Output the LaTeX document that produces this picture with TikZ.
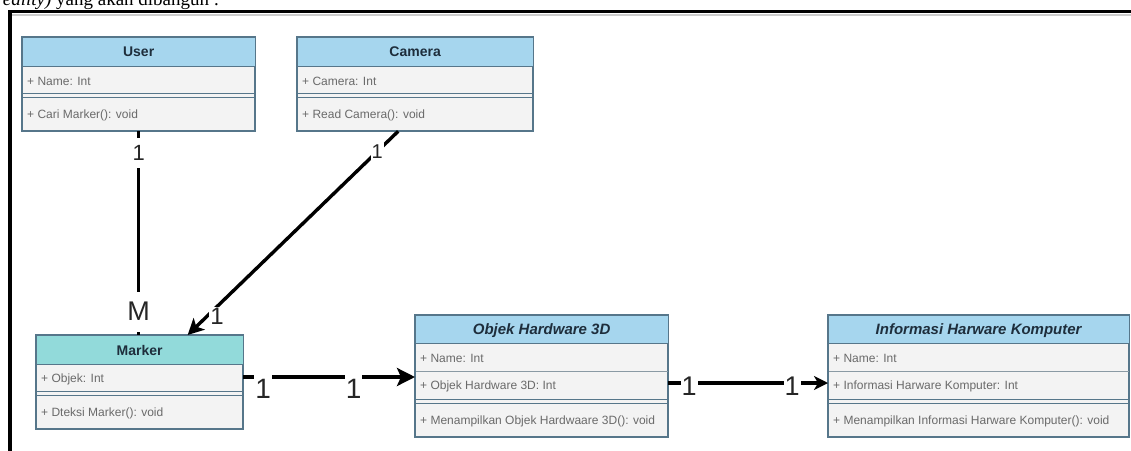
\documentclass[tikz,border=0pt]{standalone}
\usepackage{fontspec}
\setmainfont{Liberation Sans}
\newfontfamily\capserif{Liberation Serif}
\usetikzlibrary{arrows.meta,calc}
\definecolor{headblue}{HTML}{A6D6EE}
\definecolor{headteal}{HTML}{92DADA}
\definecolor{bodygray}{HTML}{F3F3F3}
\definecolor{boxline}{HTML}{56768A}
\definecolor{rowline}{HTML}{8A9AA4}
\definecolor{attrtext}{HTML}{6A6A6A}
\definecolor{headtext}{HTML}{1E2E3C}
\definecolor{labeltext}{HTML}{262626}
\tikzset{
  classbody/.style={draw=boxline, line width=1.3pt, fill=bodygray, inner sep=0pt, anchor=north west},
  sepline/.style={draw=rowline, line width=0.9pt},
  dblline/.style={draw=boxline, line width=0.9pt},
  headlbl/.style={font=\fontsize{14}{14}\selectfont\bfseries, text=headtext, inner sep=0pt},
  headlblit/.style={font=\fontsize{15}{15}\selectfont\bfseries\itshape, text=headtext, inner sep=0pt},
  memberlbl/.style={font=\fontsize{12}{12}\selectfont, text=attrtext, anchor=west, inner sep=0pt},
  assoc/.style={line width=#1, black},
  assoc/.default=3.6pt,
  navarrow/.style={-{Stealth[length=#1,width=#1,inset=4pt]}},
  navarrow/.default=16pt,
  mult/.style={fill=white, inner sep=1pt, text=labeltext, font=\fontsize{#1}{#1}\selectfont},
  mult/.default=28,
}
% one attribute row
\newcommand{\classone}[9]{%
  \node[classbody, minimum width=#4pt, minimum height=93pt] (#1) at (#2,#3) {};
  \fill[#5] ($(#1.north west)+(0.65,0.65)$) rectangle ($(#1.north east)+(-0.65,29)$);
  \draw[sepline, draw=boxline] ($(#1.north west)+(0,29)$) -- ($(#1.north east)+(0,29)$);
  \draw[dblline] ($(#1.north west)+(0,56)$) -- ($(#1.north east)+(0,56)$);
  \draw[dblline] ($(#1.north west)+(0,60)$) -- ($(#1.north east)+(0,60)$);
  \node[#6] (#1-title) at ($(#1.north)+(0,15)$) {#7};
  \node[memberlbl] (#1-a1) at ($(#1.north west)+(5,44)$) {#8};
  \node[memberlbl] (#1-m) at ($(#1.north west)+(5,78)$) {#9};
  \draw[boxline, line width=1.3pt] (#1.north west) rectangle (#1.south east);
}
% two attribute rows
\newcommand{\classtwo}[9]{%
  \node[classbody, minimum width=#4pt, minimum height=121pt] (#1) at (#2,#3) {};
  \fill[#5] ($(#1.north west)+(0.65,0.65)$) rectangle ($(#1.north east)+(-0.65,28)$);
  \draw[sepline, draw=boxline] ($(#1.north west)+(0,28)$) -- ($(#1.north east)+(0,28)$);
  \draw[sepline] ($(#1.north west)+(0,56)$) -- ($(#1.north east)+(0,56)$);
  \draw[dblline] ($(#1.north west)+(0,84)$) -- ($(#1.north east)+(0,84)$);
  \draw[dblline] ($(#1.north west)+(0,88)$) -- ($(#1.north east)+(0,88)$);
  \node[headlblit] (#1-title) at ($(#1.north)+(0,16)$) {#6};
  \node[memberlbl] (#1-a1) at ($(#1.north west)+(5,43)$) {#7};
  \node[memberlbl] (#1-a2) at ($(#1.north west)+(5,71)$) {#8};
  \node[memberlbl] (#1-m) at ($(#1.north west)+(5,106)$) {#9};
  \draw[boxline, line width=1.3pt] (#1.north west) rectangle (#1.south east);
}
\begin{document}
\begin{tikzpicture}[x=1pt,y=-1pt]
\useasboundingbox (0,0) rectangle (1131,450);
\clip (0,0) rectangle (1131,450);
\fill[white] (0,0) rectangle (1131,450);
% clipped caption line of the page above
\node[anchor=base west, font=\capserif\fontsize{19}{19}\selectfont, inner sep=0pt] (caption) at (-4,5) {\textit{reality)} yang akan dibangun :};
% frame
\draw[gray!40, line width=2pt] (12,15) -- (1131,15);
\draw[black, line width=3.5pt] (10,452) -- (10,11.5) -- (1133,11.5);

\classone{user}{22}{37}{232}{headblue}{headlbl}{User}{+ Name: Int}{+ Cari Marker(): void}
\classone{camera}{297}{37}{235}{headblue}{headlbl}{Camera}{+ Camera: Int}{+ Read Camera(): void}
\classone{marker}{36}{335}{206}{headteal}{headlbl}{Marker}{+ Objek: Int}{+ Dteksi Marker(): void}
\classtwo{objek}{415}{315}{252}{headblue}{Objek Hardware 3D}{+ Name: Int}{+ Objek Hardware 3D: Int}{+ Menampilkan Objek Hardwaare 3D(): void}
\classtwo{info}{828}{315}{300}{headblue}{Informasi Harware Komputer}{+ Name: Int}{+ Informasi Harware Komputer: Int}{+ Menampilkan Informasi Harware Komputer(): void}

% User -- Marker
\draw[assoc=3.2pt] (user.south) -- (user.south |- marker.north)
  node[mult=22, pos=0.107, minimum height=30pt] (lu1) {1}
  node[mult=27, pos=0.885, minimum height=40pt] (lum) {M};
% Camera -> Marker
\coordinate (cm-s) at ($(camera.south)+(-17,0)$);
\coordinate (cm-e) at ($(marker.north)+(48,0)$);
\draw[assoc=3.4pt, navarrow=16pt] (cm-s) -- (cm-e)
  node[mult=20, pos=0.1, minimum height=24pt] (lc1) {1}
  node[mult=24, pos=0.87, xshift=2pt, yshift=-8pt] (lc2) {1};
% Marker -> Objek
\coordinate (mo-s) at ($(marker.north east)+(0,42)$);
\draw[assoc=4pt, navarrow=18pt] (mo-s) -- (mo-s -| objek.west)
  node[mult=28, pos=0.116, yshift=-12pt, minimum height=30pt] (lmo1) {1}
  node[mult=28, pos=0.642, yshift=-12pt, minimum height=30pt] (lmo2) {1};
% Objek -> Informasi
\coordinate (oi-s) at ($(objek.north east)+(0,68)$);
\draw[assoc=4pt, navarrow=14pt] (oi-s) -- (oi-s -| info.west)
  node[mult=27, pos=0.13, yshift=-3pt] (loi1) {1}
  node[mult=27, pos=0.776, yshift=-3pt] (loi2) {1};
\end{tikzpicture}
\end{document}
